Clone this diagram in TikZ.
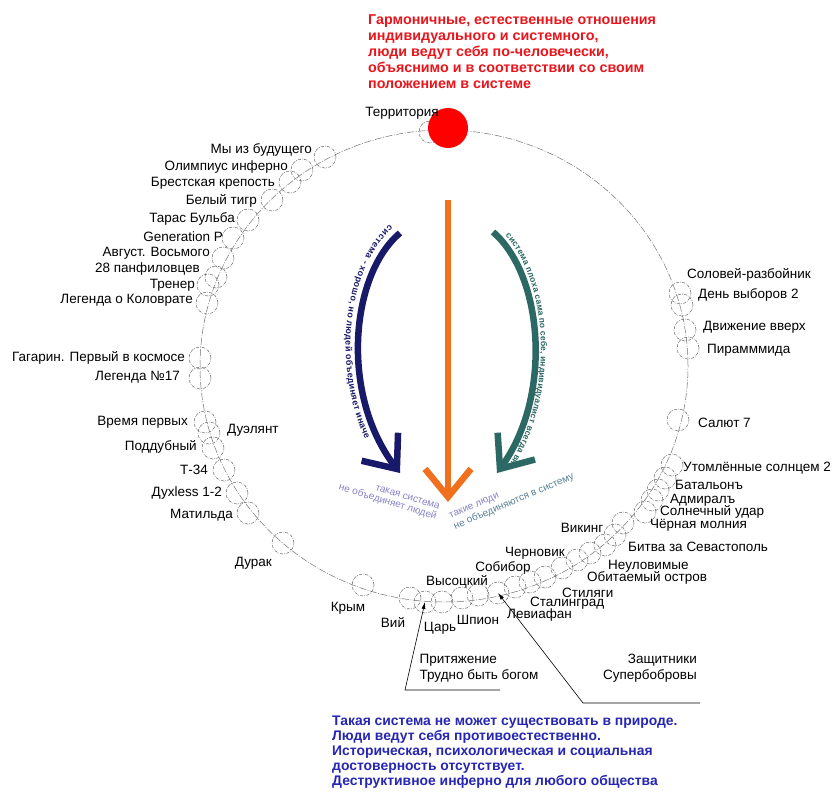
\documentclass[tikz,border=0pt]{standalone}
\usepackage{fontspec}
\setmainfont{Liberation Sans}
\usetikzlibrary{shapes.geometric, arrows.meta, decorations.text}

\definecolor{harmred}{RGB}{232,22,28}
\definecolor{unnatblue}{RGB}{38,38,178}
\definecolor{goodnavy}{RGB}{25,25,105}
\definecolor{badteal}{RGB}{45,105,100}
\definecolor{mainorange}{RGB}{240,112,30}
\definecolor{softviolet}{RGB}{135,130,200}
\definecolor{softteal}{RGB}{85,130,150}

\begin{document}
\begin{tikzpicture}[x=1pt, y=-1pt,
		orbit/.style={draw=black!55, ellipse, line width=0.5pt, dash pattern=on 7pt off 1.5pt on 1pt off 1.5pt, inner sep=0pt},
		film/.style={draw=black!60, circle, line width=0.5pt, dash pattern=on 3pt off 1.2pt on 0.7pt off 1.2pt, minimum size=22pt, inner sep=0pt},
		movie/.style={inner sep=0pt, font=\fontsize{13.5}{16}\selectfont},
		bigarrow/.style={line width=6.5pt, -{Straight Barb[length=28pt, width=46pt, sharp]}},
		callout/.style={line width=0.6pt, -{Latex[length=7pt, width=4pt]}}]
		\useasboundingbox (0,0) rectangle (835,792);
		\fill[white] (0,0) rectangle (835,792);

		% the system
		\node[orbit, minimum width=488pt, minimum height=472pt] (system) at (444,366) {};

		% top: harmony
		\node[anchor=north west, align=left, text=harmred, inner sep=0pt, font=\bfseries\fontsize{14.3}{16}\selectfont] (harmony) at (368,14) {Гармоничные, естественные отношения\\индивидуального и системного,\\люди ведут себя по-человечески,\\объяснимо и в соответствии со своим\\положением в системе};
		\node[film] (f0) at (430,132) {};
		\node[circle, fill=red, minimum size=40pt, inner sep=0pt] (ideal) at (448,128) {};
		\node[movie] (t0) at (402,113) {Территория};

		% left
		\node[film] (f1) at (325,157) {};
		\node[movie, anchor=east] (t1) at (312,150) {Мы из будущего};
		\node[film] (f2) at (302,170) {};
		\node[movie, anchor=east] (t2) at (288,167) {Олимпиус инферно};
		\node[film] (f3) at (290,182) {};
		\node[movie, anchor=east] (t3) at (275,183) {Брестская крепость};
		\node[film] (f4) at (272,200) {};
		\node[movie, anchor=east] (t4) at (257,201) {Белый тигр};
		\node[film] (f5) at (248,220) {};
		\node[movie, anchor=east] (t5) at (235,219) {Тарас Бульба};
		\node[film] (f6) at (233,238) {};
		\node[movie, anchor=east] (t6) at (223,237) {Generation P};
		\node[film] (f7) at (223,258) {};
		\node[movie, anchor=east] (t7) at (210,253) {Август. Восьмого};
		\node[film] (f8) at (216,277) {};
		\node[movie, anchor=east] (t8) at (200,269) {28 панфиловцев};
		\node[film] (f9) at (208,285) {};
		\node[movie, anchor=east] (t9) at (195,285) {Тренер};
		\node[film] (f10) at (207,303) {};
		\node[movie, anchor=east] (t10) at (193,300) {Легенда о Коловрате};
		\node[film] (f11) at (200,358) {};
		\node[movie, anchor=east] (t11) at (185,358) {Гагарин. Первый в космосе};
		\node[film] (f12) at (200,378) {};
		\node[movie, anchor=east] (t12) at (180,377) {Легенда №17};
		\node[film] (f13) at (205,422) {};
		\node[movie, anchor=east] (t13) at (188,422) {Время первых};
		\node[film] (f14) at (209,433) {};
		\node[movie, anchor=west] (t14) at (227,430) {Дуэлянт};
		\node[film] (f15) at (213,448) {};
		\node[movie, anchor=east] (t15) at (197,447) {Поддубный};
		\node[film] (f16) at (224,470) {};
		\node[movie, anchor=east] (t16) at (208,470) {Т-34};
		\node[film] (f17) at (237,493) {};
		\node[movie, anchor=east] (t17) at (222,493) {Дуxless 1-2};
		\node[film] (f18) at (248,513) {};
		\node[movie, anchor=east] (t18) at (233,515) {Матильда};
		\node[film] (f19) at (283,543) {};
		\node[movie, anchor=east] (t19) at (272,563) {Дурак};
		\node[film] (f20) at (363,585) {};
		\node[movie] (t20) at (348,608) {Крым};

		% bottom
		\node[film] (f21) at (410,598) {};
		\node[movie] (t21) at (393,622) {Вий};
		\node[film] (f22) at (425,602) {};
		\node[movie] (t22) at (440,628) {Царь};
		\node[film] (f23) at (442,602) {};
		\node[movie] (t23) at (457,582) {Высоцкий};
		\node[film] (f24) at (462,598) {};
		\node[movie] (t24) at (478,620) {Шпион};
		\node[film] (f25) at (478,595) {};
		\node[movie] (t25) at (503,568) {Собибор};
		\node[film] (f26) at (498,593) {};
		\node[movie, anchor=west] (t26) at (507,615) {Левиафан};
		\node[film] (f27) at (515,587) {};
		\node[movie, anchor=west] (t27) at (530,603) {Сталинград};
		\node[film] (f28) at (530,582) {};
		\node[movie, anchor=west] (t28) at (562,593) {Стиляги};
		\node[film] (f29) at (545,577) {};
		\node[movie] (t29) at (535,553) {Черновик};
		\node[film] (f30) at (562,568) {};
		\node[movie, anchor=west] (t30) at (587,578) {Обитаемый остров};
		\node[film] (f31) at (577,560) {};
		\node[movie, anchor=west] (t31) at (608,566) {Неуловимые};
		\node[film] (f32) at (590,553) {};
		\node[movie, anchor=west] (t32) at (628,547) {Битва за Севастополь};
		\node[film] (f33) at (605,545) {};
		\node[film] (f34) at (615,535) {};
		\node[film] (f35) at (623,523) {};
		\node[movie] (t35) at (582,528) {Викинг};
		\node[film] (f36) at (645,512) {};
		\node[movie, anchor=west] (t36) at (650,525) {Чёрная молния};
		\node[film] (f37) at (652,500) {};
		\node[movie, anchor=west] (t37) at (660,512) {Солнечный удар};
		\node[film] (f38) at (658,490) {};
		\node[movie, anchor=west] (t38) at (670,500) {Адмиралъ};
		\node[film] (f39) at (665,478) {};
		\node[movie, anchor=west] (t39) at (675,485) {Батальонъ};
		\node[film] (f40) at (672,465) {};
		\node[movie, anchor=west] (t40) at (683,468) {Утомлённые солнцем 2};

		% right
		\node[film] (f41) at (680,293) {};
		\node[movie, anchor=west] (t41) at (687,275) {Соловей-разбойник};
		\node[film] (f42) at (682,305) {};
		\node[movie, anchor=west] (t42) at (698,295) {День выборов 2};
		\node[film] (f43) at (685,330) {};
		\node[movie, anchor=west] (t43) at (703,327) {Движение вверх};
		\node[film] (f44) at (688,348) {};
		\node[movie, anchor=west] (t44) at (707,350) {Пирамммида};
		\node[film] (f45) at (678,420) {};
		\node[movie, anchor=west] (t45) at (698,423) {Салют 7};

		% arrows inside
		\coordinate (orangeS) at (448,200);
		\coordinate (orangeE) at (448,502);
		\draw[bigarrow, mainorange] (orangeS) -- (orangeE);
		\coordinate (navyS) at (400,233);
		\coordinate (navyE) at (400,473);
		\draw[bigarrow, goodnavy] (navyS) .. controls (350,275) and (340,395) .. (navyE);
		\path[decorate, decoration={text along path, raise=-13pt, text align={left indent=2pt}, text={|\bfseries\fontsize{9}{11}\selectfont\color{goodnavy}|система - хорошо, но людей объединяет иначе}}] (navyS) .. controls (350,275) and (340,395) .. (navyE);
		\coordinate (tealS) at (493,232);
		\coordinate (tealE) at (497,473);
		\draw[bigarrow, badteal] (tealS) .. controls (543,275) and (553,395) .. (tealE);
		\path[decorate, decoration={text along path, raise=6pt, text align=center, text={|\bfseries\fontsize{8.5}{11}\selectfont\color{badteal}|система плоха сама по себе, индивидуалист всегда вне}}] (tealS) .. controls (543,275) and (553,395) .. (tealE);
		\node[rotate=-17, align=right, text=softviolet, inner sep=0pt, font=\fontsize{10}{10.5}\selectfont] (notjoin) at (389,498) {такая система\\не объединяет людей};
		\node[rotate=23, align=left, inner sep=0pt, font=\fontsize{10}{12}\selectfont] (notjoined) at (512,497) {\textcolor{softviolet}{такие люди}\\\textcolor{softteal}{не объединяются в систему}};

		% callouts
		\node[movie, align=left] (bog) at (479,668) {Притяжение\\Трудно быть богом};
		\coordinate (bogend) at (500,690);
		\coordinate (bogknee) at (405,690);
		\draw[callout] (bogend) -- (bogknee) -- (f22.center);
		\node[movie, align=right, anchor=east] (bobr) at (697,668) {Защитники\\Супербобровы};
		\coordinate (bobrend) at (700,703);
		\coordinate (bobrknee) at (583,703);
		\draw[callout] (bobrend) -- (bobrknee) -- (f26.center);

		% bottom: unnatural
		\node[anchor=north west, align=left, text=unnatblue, inner sep=0pt, font=\bfseries\fontsize{13.9}{15}\selectfont] (unnatural) at (332,716) {Такая система не может существовать в природе.\\Люди ведут себя противоестественно.\\Историческая, психологическая и социальная\\достоверность отсутствует.\\Деструктивное инферно для любого общества};
	\end{tikzpicture}
\end{document}
